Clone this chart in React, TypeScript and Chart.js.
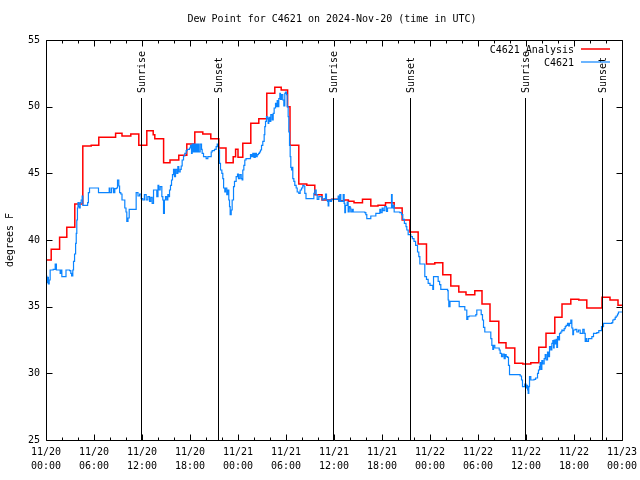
import React, { useEffect, useRef } from "react";
import { Chart, registerables } from "chart.js";

Chart.register(...registerables);

const TITLE = "Dew Point for C4621 on 2024-Nov-20 (time in UTC)";
const Y_LABEL = "degrees F";
const SERIES_NAMES = ["C4621 Analysis", "C4621"];

const xTickDates = ["11/20", "11/20", "11/20", "11/20", "11/21", "11/21", "11/21", "11/21", "11/22", "11/22", "11/22", "11/22", "11/23"];
const xTickTimes = ["00:00", "06:00", "12:00", "18:00", "00:00", "06:00", "12:00", "18:00", "00:00", "06:00", "12:00", "18:00", "00:00"];

// hours since 11/20 00:00 UTC
const eventHours = [11.87, 21.48, 35.9, 45.5, 59.9, 69.47];
const eventLabels = ["Sunrise", "Sunset", "Sunrise", "Sunset", "Sunrise", "Sunset"];

// Analysis (hourly steps)
const analysisHours = [0, 0.65, 1.7, 2.6, 3.6, 4.6, 5.65, 6.6, 8.7, 9.5, 10.6, 11.6, 12.6, 13.4, 13.6, 14.7, 15.5, 16.6, 17.6, 18.6, 19.6, 20.6, 21.6, 22.5, 23.4, 23.7, 24.0, 24.6, 25.6, 26.6, 27.6, 28.6, 29.4, 30.2, 30.5, 31.6, 32.6, 33.6, 34.5, 35.7, 36.6, 37.3, 37.8, 38.5, 39.56, 40.6, 41.5, 42.44, 43.52, 44.52, 45.48, 46.52, 47.56, 48.6, 49.6, 50.6, 51.6, 52.5, 53.6, 54.5, 55.5, 56.6, 57.5, 58.6, 59.6, 60.6, 61.6, 62.5, 63.6, 64.5, 65.6, 66.6, 67.6, 69.5, 70.5, 71.5, 72];
const analysisValues = [38.5, 39.3, 40.2, 40.95, 42.7, 47.05, 47.1, 47.7, 48.0, 47.8, 47.95, 47.1, 48.2, 47.9, 47.6, 45.8, 46.0, 46.35, 47.2, 48.1, 47.95, 47.6, 46.9, 45.8, 46.25, 46.8, 46.2, 47.25, 48.75, 49.1, 51.0, 51.45, 51.25, 50.0, 47.1, 44.2, 44.1, 43.4, 43.0, 43.05, 42.95, 43.0, 42.9, 42.8, 43.05, 42.55, 42.6, 42.8, 42.4, 41.5, 40.6, 39.7, 38.2, 38.3, 37.4, 36.55, 36.1, 35.9, 36.2, 35.2, 33.9, 32.3, 31.9, 30.75, 30.7, 30.8, 31.95, 33.0, 34.2, 35.2, 35.55, 35.5, 34.9, 35.7, 35.5, 35.1, 35.1];

// Station observations [hour, dew point]
const observed: [number, number][] = [
  [0, 37.3], [0.1, 36.8], [0.2, 37.2], [0.3, 36.7], [0.4, 37.0], [0.52, 37.75], [0.9, 37.8], [1.15, 38.2], [1.3, 37.75], [1.77, 37.5], [1.85, 37.75], [1.98, 37.25], [2.5, 37.75], [2.95, 37.7], [3.1, 37.5], [3.2, 37.3], [3.35, 37.75],
  [3.44, 38.4], [3.57, 38.95], [3.7, 39.75], [3.78, 40.5], [3.85, 41.5], [3.93, 42.4], [4.0, 42.8], [4.1, 42.5], [4.2, 42.4], [4.27, 42.8], [4.4, 43.0], [4.52, 43.3], [4.6, 42.6], [5.2, 42.8], [5.3, 43.55], [5.44, 43.9],
  [6.4, 43.9], [6.56, 43.55], [7.8, 43.55], [7.9, 43.9], [8.0, 43.55], [8.2, 43.9], [8.45, 43.55], [8.6, 43.85], [8.8, 43.9], [8.94, 44.5], [9.1, 44.05], [9.2, 43.55], [9.35, 43.45], [9.5, 43.0], [9.85, 42.4], [10.0, 42.1], [10.1, 41.4], [10.25, 41.65], [10.4, 42.3],
  [11.15, 42.3], [11.27, 43.55], [11.5, 43.3], [11.7, 43.45], [11.9, 43.1], [12.1, 43.0], [12.3, 43.4], [12.52, 43.0], [12.73, 43.25], [12.94, 42.9], [13.1, 43.2], [13.27, 42.75], [13.44, 43.75], [13.69, 43.75], [13.85, 43.25], [14.0, 44.1], [14.1, 43.75], [14.27, 44.0], [14.48, 43.25], [14.6, 43.0], [14.69, 42.0], [14.8, 43.0], [14.94, 43.25], [15.1, 43.0], [15.23, 43.4], [15.35, 43.25], [15.44, 43.75],
  [15.56, 44.1], [15.69, 44.5], [15.81, 44.9], [15.94, 45.3], [16.06, 44.75], [16.19, 45.3], [16.35, 45.0], [16.48, 45.5], [16.6, 45.1], [16.77, 45.3], [16.9, 45.55], [17.02, 46.0], [17.19, 46.3], [17.35, 46.5], [17.52, 46.7], [17.65, 46.8], [17.94, 46.9], [18.06, 47.1], [18.19, 46.5], [18.27, 47.2], [18.4, 46.6], [18.5, 47.2], [18.6, 46.6], [18.7, 47.2], [18.85, 46.6], [19.0, 47.2], [19.1, 46.6], [19.27, 47.2], [19.44, 46.8], [19.52, 46.5], [19.69, 46.25],
  [20.02, 46.1], [20.23, 46.25], [20.65, 46.6], [20.77, 46.7], [21.06, 46.8], [21.27, 47.0], [21.4, 47.2], [21.5, 47.0], [21.6, 46.75], [21.69, 45.75], [21.81, 45.25], [21.98, 45.0], [22.1, 44.6], [22.2, 43.9], [22.35, 43.6], [22.44, 43.9], [22.6, 43.4], [22.73, 43.75], [22.85, 43.0], [22.94, 42.5], [23.02, 41.9], [23.15, 42.25], [23.27, 43.0], [23.44, 44.0], [23.56, 44.4], [23.77, 44.75], [23.94, 44.95],
  [24.06, 44.6], [24.23, 44.9], [24.4, 44.6], [24.52, 44.5], [24.6, 45.25], [24.73, 45.6], [24.85, 46.0], [25.0, 46.1], [25.56, 46.4], [25.7, 46.25], [25.85, 46.5], [26.0, 46.2], [26.15, 46.5], [26.3, 46.25], [26.4, 46.4], [26.56, 46.5], [26.69, 46.6], [26.81, 46.75], [26.94, 47.1], [27.1, 47.4], [27.27, 47.9], [27.35, 48.5], [27.44, 48.9], [27.56, 49.25], [27.65, 49.1], [27.77, 48.75], [27.85, 49.2], [27.98, 48.9], [28.1, 49.4], [28.27, 49.0], [28.4, 49.5], [28.52, 49.9], [28.69, 50.25], [28.77, 50.0], [28.9, 50.45], [29.02, 50.0], [29.1, 50.6], [29.23, 51.0], [29.31, 50.55], [29.44, 50.9], [29.6, 50.5], [29.73, 50.05], [29.85, 51.0], [29.94, 51.1], [30.06, 50.9], [30.15, 50.0],
  [30.27, 49.25], [30.35, 48.1], [30.44, 47.1], [30.52, 46.25], [30.6, 45.45], [30.69, 45.25], [30.77, 45.45], [30.85, 44.6], [30.98, 44.4], [31.1, 44.1], [31.27, 43.9], [31.4, 43.6], [31.6, 43.5], [31.77, 43.75], [31.94, 43.9], [32.1, 44.1], [32.23, 44.05], [32.35, 43.5], [32.5, 43.1], [33.35, 43.1], [33.48, 43.5], [33.6, 43.75], [33.77, 43.4], [33.9, 43.05], [34.1, 43.25], [34.52, 43.0], [34.73, 43.1], [34.94, 43.45], [35.06, 43.0], [35.19, 42.9], [35.27, 42.55], [35.35, 43.0], [35.52, 42.9], [35.69, 43.05],
  [36.52, 43.3], [36.6, 42.9], [36.73, 43.4], [36.85, 42.9], [37.15, 43.4], [37.27, 42.75], [37.35, 42.05], [37.44, 42.6], [37.65, 42.85], [37.77, 42.1], [37.9, 42.5], [38.02, 42.4], [38.1, 42.1], [38.27, 42.3], [38.4, 42.1], [39.85, 42.05], [39.98, 41.9], [40.1, 41.6], [40.6, 41.8], [41.23, 42.0], [41.73, 42.3], [41.85, 42.05], [42.02, 42.4], [42.15, 42.2], [42.35, 42.5], [42.56, 42.15], [42.69, 42.4], [43.1, 42.4], [43.19, 43.4], [43.27, 42.4], [43.4, 42.6], [43.52, 42.1],
  [44.23, 42.05], [44.44, 41.9], [44.6, 41.55], [44.8, 41.25], [45.0, 41.0], [45.1, 40.75], [45.27, 40.4], [45.6, 40.25], [45.8, 40.1], [46.0, 39.9], [46.2, 39.6], [46.44, 39.1], [46.6, 38.75], [46.73, 38.2], [47.27, 38.2], [47.35, 37.25], [47.56, 37.05], [47.77, 36.75], [48.0, 36.6], [48.35, 36.3], [48.44, 37.25], [48.85, 37.25], [49.02, 36.9], [49.2, 36.65], [49.35, 36.3], [50.2, 36.2], [50.27, 35.5], [50.35, 35.0], [50.5, 35.4], [51.44, 35.4], [51.65, 35.0], [52.27, 35.0], [52.35, 34.75], [52.6, 34.05], [52.73, 34.25], [52.9, 34.3], [53.73, 34.4], [53.85, 34.75], [54.27, 34.75], [54.4, 34.4], [54.56, 34.0], [54.69, 33.45], [54.85, 33.1],
  [55.52, 33.1], [55.6, 32.6], [55.73, 32.1], [55.85, 31.8], [55.94, 32.1], [56.1, 31.9], [56.65, 31.75], [56.77, 31.5], [56.94, 31.25], [57.1, 31.45], [57.27, 31.1], [57.4, 31.4], [57.52, 31.25], [57.69, 31.2], [57.81, 30.6], [57.94, 29.9], [59.27, 29.8], [59.44, 29.5], [59.56, 29.0], [59.75, 29.0], [59.85, 29.2], [60.0, 28.9], [60.1, 29.1], [60.2, 28.75], [60.27, 28.5], [60.35, 29.0], [60.44, 29.75], [60.6, 29.5], [61.0, 29.55], [61.2, 29.65], [61.44, 30.0], [61.56, 30.25], [61.69, 30.5], [61.77, 30.8], [61.85, 30.3], [61.98, 30.95], [62.1, 30.7], [62.27, 31.1], [62.4, 31.4], [62.52, 31.0], [62.69, 31.6], [62.81, 31.25], [62.94, 32.0], [63.1, 31.75], [63.23, 32.25], [63.35, 32.45], [63.44, 31.9], [63.52, 32.5], [63.65, 32.2], [63.77, 32.55], [63.85, 31.95], [63.94, 32.75], [64.06, 32.5], [64.19, 33.0], [64.35, 33.1], [64.48, 33.25], [64.6, 33.2], [64.77, 33.35], [64.9, 33.5], [65.02, 33.6], [65.19, 33.75], [65.31, 33.55], [65.44, 33.75], [65.6, 34.0],
  [65.73, 33.4], [65.85, 32.9], [65.94, 33.25], [66.15, 33.3], [66.35, 33.1], [66.56, 33.25], [66.77, 33.0], [67.1, 33.3], [67.27, 33.0], [67.4, 32.4], [67.5, 32.6], [67.6, 32.4], [67.81, 32.6], [68.23, 32.75], [68.44, 33.0], [68.85, 33.05], [69.1, 33.2], [69.44, 33.5], [69.69, 33.75], [70.73, 33.8], [70.85, 34.0], [71.0, 34.05], [71.15, 34.2], [71.27, 34.3], [71.44, 34.45], [71.56, 34.6], [72.0, 34.6],
];

const FONT = '10px "DejaVu Sans Mono", monospace';

const decor = {
  id: "decor",
  afterDatasetsDraw(chart: any) {
    const { ctx, chartArea: a, scales } = chart;
    const xs = scales.x;
    const ys = scales.y;
    ctx.save();
    ctx.strokeStyle = "#000";
    ctx.fillStyle = "#000";
    ctx.lineWidth = 1;
    ctx.font = FONT;

    // sunrise / sunset markers
    eventHours.forEach((h, i) => {
      const x = Math.round(xs.getPixelForValue(h)) + 0.5;
      ctx.beginPath();
      ctx.moveTo(x, a.bottom);
      ctx.lineTo(x, 98);
      ctx.stroke();
      ctx.save();
      ctx.translate(x + 1, 93);
      ctx.rotate(-Math.PI / 2);
      ctx.textAlign = "left";
      ctx.textBaseline = "middle";
      ctx.fillText(eventLabels[i], 0, 0);
      ctx.restore();
    });

    // border
    const L = Math.round(a.left) + 0.5;
    const R = Math.round(a.right) + 0.5;
    const T = Math.round(a.top) + 0.5;
    const B = Math.round(a.bottom) + 0.5;
    ctx.beginPath();
    ctx.rect(L, T, R - L, B - T);
    ctx.stroke();

    // inward ticks
    ctx.beginPath();
    for (let h = 0; h <= 72; h += 2) {
      const x = Math.round(xs.getPixelForValue(h)) + 0.5;
      const len = h % 6 === 0 ? 6 : 3;
      ctx.moveTo(x, B);
      ctx.lineTo(x, B - len);
      ctx.moveTo(x, T);
      ctx.lineTo(x, T + len);
    }
    for (let v = 25; v <= 55; v += 5) {
      const y = Math.round(ys.getPixelForValue(v)) + 0.5;
      ctx.moveTo(L, y);
      ctx.lineTo(L + 6, y);
      ctx.moveTo(R, y);
      ctx.lineTo(R - 6, y);
    }
    ctx.stroke();

    // legend
    const colors = ["#ff0000", "#0a84ff"];
    const legendY = [50, 63];
    SERIES_NAMES.forEach((name, i) => {
      ctx.fillStyle = "#000";
      ctx.textAlign = "right";
      ctx.textBaseline = "middle";
      ctx.fillText(name, 574, legendY[i]);
      ctx.strokeStyle = colors[i];
      ctx.lineWidth = i === 0 ? 1.5 : 1.2;
      ctx.beginPath();
      ctx.moveTo(581, legendY[i] - 1);
      ctx.lineTo(610, legendY[i] - 1);
      ctx.stroke();
    });

    // title
    ctx.fillStyle = "#000";
    ctx.textAlign = "center";
    ctx.textBaseline = "middle";
    ctx.fillText(TITLE, 332, 19);

    // y axis title
    ctx.save();
    ctx.translate(10, 240);
    ctx.rotate(-Math.PI / 2);
    ctx.textAlign = "center";
    ctx.textBaseline = "middle";
    ctx.fillText(Y_LABEL, 0, 0);
    ctx.restore();

    ctx.restore();
  },
};

export default function App() {
  const canvasRef = useRef<HTMLCanvasElement | null>(null);

  useEffect(() => {
    document.body.style.margin = "0";
    const canvas = canvasRef.current;
    if (!canvas) return;
    const chart = new Chart(canvas, {
      type: "line",
      data: {
        datasets: [
          {
            label: SERIES_NAMES[0],
            data: analysisHours.map((h, i) => ({ x: h, y: analysisValues[i] })),
            borderColor: "#ff0000",
            borderWidth: 1.5,
            stepped: true,
            pointRadius: 0,
            fill: false,
            order: 2,
          },
          {
            label: SERIES_NAMES[1],
            data: observed.map(([h, v]) => ({ x: h, y: v })),
            borderColor: "#0a84ff",
            borderWidth: 1.2,
            stepped: true,
            pointRadius: 0,
            fill: false,
            order: 1,
          },
        ],
      },
      options: {
        animation: false,
        responsive: false,
        devicePixelRatio: 1,
        layout: { padding: { left: 0, right: 18, top: 40, bottom: 0 } },
        plugins: {
          legend: { display: false },
          title: { display: false },
          tooltip: { enabled: false },
        },
        scales: {
          x: {
            type: "linear",
            min: 0,
            max: 72,
            afterFit: (s: any) => {
              s.height = 40;
              s.paddingRight = 0;
              s.paddingLeft = 0;
            },
            afterBuildTicks: (s: any) => {
              s.ticks = xTickDates.map((_, i) => ({ value: i * 6 }));
            },
            ticks: {
              autoSkip: false,
              maxRotation: 0,
              minRotation: 0,
              padding: 5,
              color: "#000",
              font: { family: '"DejaVu Sans Mono", monospace', size: 10, lineHeight: 1.4 },
              callback: (v: any) => {
                const i = Math.round(Number(v) / 6);
                return [xTickDates[i], xTickTimes[i]];
              },
            },
            grid: { display: false, drawTicks: false },
            border: { display: false },
          },
          y: {
            min: 25,
            max: 55,
            afterFit: (s: any) => {
              s.width = 46;
              s.paddingTop = 0;
              s.paddingBottom = 0;
            },
            ticks: {
              stepSize: 5,
              padding: 6,
              color: "#000",
              font: { family: '"DejaVu Sans Mono", monospace', size: 10 },
            },
            grid: { display: false, drawTicks: false },
            border: { display: false },
          },
        },
      },
      plugins: [decor],
    });
    return () => chart.destroy();
  }, []);

  return (
    <div style={{ width: 640, height: 480 }}>
      <canvas ref={canvasRef} width={640} height={480} style={{ display: "block" }} />
    </div>
  );
}
